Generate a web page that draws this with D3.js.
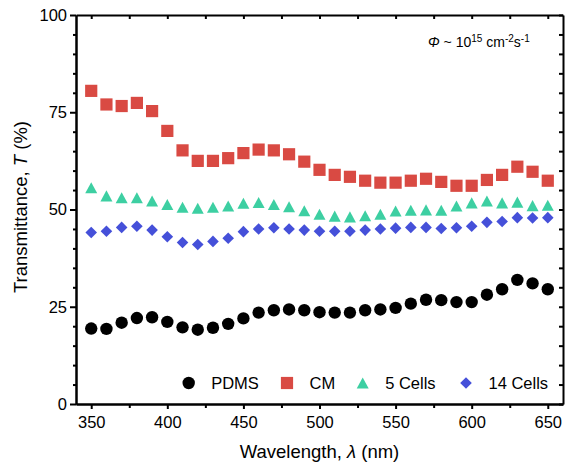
<!DOCTYPE html>
<html>
<head>
<meta charset="utf-8">
<script src="https://cdn.jsdelivr.net/npm/d3@7"></script>
<style>
  html, body { margin: 0; padding: 0; background: #fff; }
  svg { display: block; font-family: "Liberation Sans", Arial, Helvetica, sans-serif; }
</style>
</head>
<body>
<svg id="chart" width="566" height="466"></svg>
<script>
// Wavelength grid (nm)
const wavelength = [350, 360, 370, 380, 390, 400, 410, 420, 430, 440, 450, 460, 470, 480, 490,
                    500, 510, 520, 530, 540, 550, 560, 570, 580, 590, 600, 610, 620, 630, 640, 650];

// Transmittance (%) per sample
const pdms = [19.4, 19.3, 20.9, 22.1, 22.3, 21.1, 19.7, 19.1, 19.6, 20.6, 22.0, 23.5, 24.1, 24.3, 24.1,
              23.6, 23.5, 23.5, 24.1, 24.3, 24.7, 25.8, 26.8, 26.7, 26.2, 26.2, 28.1, 29.5, 31.9, 31.0, 29.5];
const cm = [80.5, 77.0, 76.6, 77.4, 75.3, 70.2, 65.2, 62.5, 62.5, 63.2, 64.5, 65.4, 65.2, 64.2, 62.3,
            60.2, 58.9, 58.4, 57.4, 56.9, 56.9, 57.4, 57.9, 57.1, 56.1, 56.1, 57.6, 58.9, 61.0, 59.7, 57.4];
const cells5 = [55.6, 53.5, 53.0, 53.0, 52.2, 51.3, 50.6, 50.3, 50.6, 50.9, 51.6, 51.8, 51.3, 50.7, 49.7,
                48.8, 48.3, 48.1, 48.4, 48.8, 49.6, 49.8, 49.9, 49.8, 50.9, 51.7, 52.2, 51.7, 51.9, 51.0, 51.1];
const cells14 = [44.1, 44.4, 45.4, 45.7, 44.7, 43.0, 41.5, 41.0, 41.8, 42.6, 44.3, 45.0, 45.3, 45.0, 44.7,
                 44.4, 44.4, 44.4, 44.7, 45.0, 45.2, 45.4, 45.4, 45.1, 45.3, 45.7, 46.7, 46.9, 47.9, 47.8, 47.9];

// Tick values
const xTicks = [350, 400, 450, 500, 550, 600, 650];
const xMinorTicks = [375, 425, 475, 525, 575, 625];
const yTicks = [0, 25, 50, 75, 100];
const yMinorTicks = [5, 10, 15, 20, 30, 35, 40, 45, 55, 60, 65, 70, 80, 85, 90, 95];

const seriesNames = ["PDMS", "CM", "5 Cells", "14 Cells"];
const seriesValues = [pdms, cm, cells5, cells14];

const svg = d3.select("#chart");
const plotLeft = 76, plotRight = 563, plotTop = 15, plotBottom = 404;

const x = d3.scaleLinear().domain([340, 660]).range([plotLeft, plotRight]);
const y = d3.scaleLinear().domain([0, 100]).range([plotBottom, plotTop]);

// Marker shapes (all centered on their bounding box)
const triangleType = {
  draw(ctx, size) {
    const w = Math.sqrt(size), h = w * 0.92;
    ctx.moveTo(0, -h / 2);
    ctx.lineTo(w / 2, h / 2);
    ctx.lineTo(-w / 2, h / 2);
    ctx.closePath();
  }
};
const diamondType = {
  draw(ctx, size) {
    const r = Math.sqrt(size) / 2;
    ctx.moveTo(0, -r);
    ctx.lineTo(r, 0);
    ctx.lineTo(0, r);
    ctx.lineTo(-r, 0);
    ctx.closePath();
  }
};
const squareType = {
  draw(ctx, size) {
    const r = Math.sqrt(size) / 2;
    ctx.rect(-r, -r, 2 * r, 2 * r);
  }
};
const circleType = {
  draw(ctx, size) {
    const r = Math.sqrt(size) / 2;
    ctx.moveTo(r, 0);
    ctx.arc(0, 0, r, 0, 2 * Math.PI);
  }
};

const styles = [
  { type: circleType, size: 12.4 * 12.4, color: "#000000" },
  { type: squareType, size: 12.2 * 12.2, color: "#d94a43" },
  { type: triangleType, size: 12 * 12, color: "#3dcfa2" },
  { type: diamondType, size: 11.6 * 11.6, color: "#4550d9" }
];

// Data markers
seriesValues.forEach((vals, i) => {
  const st = styles[i];
  const sym = d3.symbol().type(st.type).size(st.size);
  svg.append("g")
    .selectAll("path")
    .data(wavelength.map((w, j) => [w, vals[j]]))
    .join("path")
    .attr("d", sym)
    .attr("transform", d => `translate(${x(d[0])},${y(d[1])})`)
    .attr("fill", st.color);
});

// Axes
const axisStyle = g => {
  g.select(".domain").attr("stroke", "#000").attr("stroke-width", 2);
  g.selectAll(".tick line").attr("stroke", "#000").attr("stroke-width", 2);
  g.selectAll(".tick text")
    .attr("fill", "#000")
    .style("font-size", "16.5px")
    .style("font-family", "'Liberation Sans', Arial, sans-serif");
};

// Bottom
svg.append("g").attr("transform", `translate(0,${plotBottom})`)
  .call(d3.axisBottom(x).tickValues(xMinorTicks).tickSize(4).tickFormat("").tickSizeOuter(0))
  .call(axisStyle);
svg.append("g").attr("transform", `translate(0,${plotBottom})`)
  .call(d3.axisBottom(x).tickValues(xTicks).tickSize(5).tickPadding(7).tickFormat(d3.format("d")).tickSizeOuter(0))
  .call(axisStyle);

// Top (ticks inward)
svg.append("g").attr("transform", `translate(0,${plotTop})`)
  .call(d3.axisBottom(x).tickValues(xTicks.concat(xMinorTicks)).tickSize(4).tickFormat("").tickSizeOuter(0))
  .call(axisStyle);

// Left
svg.append("g").attr("transform", `translate(${plotLeft},0)`)
  .call(d3.axisLeft(y).tickValues(yMinorTicks).tickSize(3).tickFormat("").tickSizeOuter(0))
  .call(axisStyle);
svg.append("g").attr("transform", `translate(${plotLeft},0)`)
  .call(d3.axisLeft(y).tickValues(yTicks).tickSize(6).tickPadding(3).tickFormat(d3.format("d")).tickSizeOuter(0))
  .call(axisStyle);

// Right (ticks inward)
svg.append("g").attr("transform", `translate(${plotRight},0)`)
  .call(d3.axisLeft(y).tickValues(yTicks.concat(yMinorTicks)).tickSize(4).tickFormat("").tickSizeOuter(0))
  .call(axisStyle);

// Axis titles
const xTitle = svg.append("text")
  .attr("x", (plotLeft + plotRight) / 2)
  .attr("y", 458)
  .attr("text-anchor", "middle")
  .style("font-size", "18.5px")
  .attr("fill", "#000");
xTitle.append("tspan").text("Wavelength, ");
xTitle.append("tspan").style("font-style", "italic").text("λ");
xTitle.append("tspan").text(" (nm)");

const yTitle = svg.append("text")
  .attr("transform", "translate(27,207) rotate(-90)")
  .attr("text-anchor", "middle")
  .style("font-size", "18.5px")
  .attr("fill", "#000");
yTitle.append("tspan").text("Transmittance, ");
yTitle.append("tspan").style("font-style", "italic").text("T");
yTitle.append("tspan").text(" (%)");

// Flux annotation
const note = svg.append("text")
  .attr("x", 428)
  .attr("y", 47)
  .style("font-size", "14px")
  .attr("fill", "#000");
note.append("tspan").style("font-style", "italic").text("Φ");
note.append("tspan").text(" ~ 10");
note.append("tspan").attr("dy", -5).style("font-size", "10px").text("15");
note.append("tspan").attr("dy", 5).text(" cm");
note.append("tspan").attr("dy", -5).style("font-size", "10px").text("-2");
note.append("tspan").attr("dy", 5).text("s");
note.append("tspan").attr("dy", -5).style("font-size", "10px").text("-1");

// Legend
const legendMarkerX = [188.7, 287, 362.7, 466];
const legendY = 383;
seriesNames.forEach((name, i) => {
  const st = styles[i];
  svg.append("path")
    .attr("d", d3.symbol().type(st.type).size(st.size)())
    .attr("transform", `translate(${legendMarkerX[i]},${legendY})`)
    .attr("fill", st.color);
  svg.append("text")
    .attr("x", legendMarkerX[i] + 22.5)
    .attr("y", legendY)
    .attr("dy", "0.36em")
    .style("font-size", "16.5px")
    .attr("fill", "#000")
    .text(name);
});
</script>
</body>
</html>
